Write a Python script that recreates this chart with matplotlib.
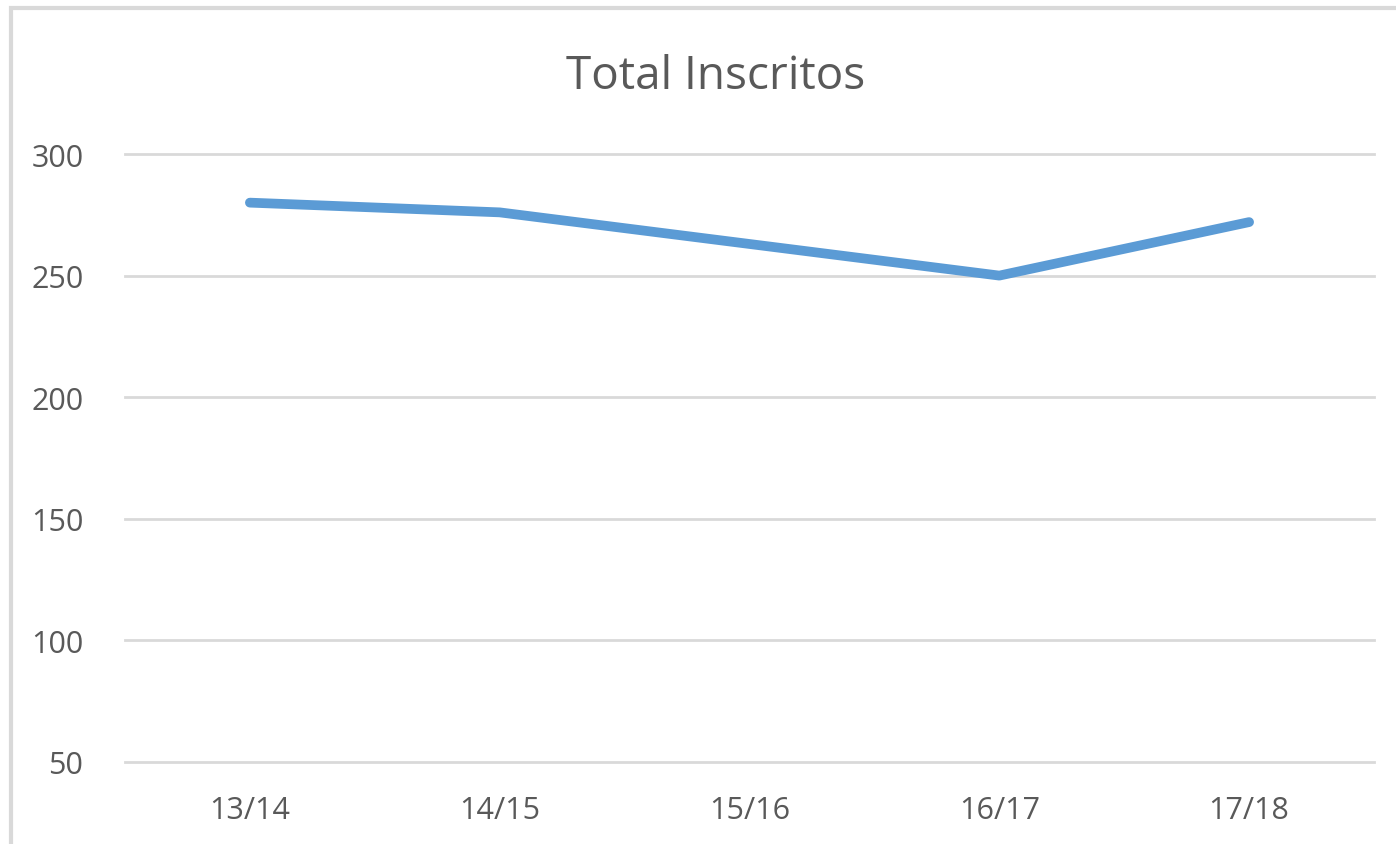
import matplotlib.pyplot as plt
from matplotlib.patches import Rectangle

anos = ['13/14', '14/15', '15/16', '16/17', '17/18']
inscritos = [280, 276, 263, 250, 272]
yticks = [50, 100, 150, 200, 250, 300]

plt.rcParams['font.family'] = ['Open Sans', 'DejaVu Sans']
texto = '#595959'
grelha = '#d9d9d9'

fig = plt.figure(figsize=(13.96, 8.45), dpi=100)
ax = fig.add_axes([125 / 1396, 1 - 763 / 845, (1374 - 125) / 1396, (763 - 155) / 845])

# moldura do gráfico (cortada à direita e em baixo)
fig.patches.append(Rectangle((11 / 1396, -0.1), 1.2, 1 - 9 / 845 + 0.1, transform=fig.transFigure,
                             fill=False, edgecolor='#d9d9d9', linewidth=3))

x = range(len(anos))
ax.plot(x, inscritos, color='#5b9bd5', linewidth=7, solid_capstyle='round', solid_joinstyle='round')

ax.set_xlim(-0.5, len(anos) - 0.5)
ax.set_ylim(50, 300)
ax.set_yticks(yticks)
ax.set_xticks(list(x))
ax.set_xticklabels(anos)
ax.grid(axis='y', color=grelha, linewidth=2)
for g in ax.yaxis.get_gridlines():
    g.set_clip_on(False)
ax.set_axisbelow(True)
for s in ax.spines.values():
    s.set_visible(False)
ax.tick_params(length=0, labelsize=22, colors=texto, pad=24)
ax.tick_params(axis='y', pad=30)

fig.text(716 / 1396, 1 - 77 / 845, 'Total Inscritos', ha='center', va='center', fontsize=33, color=texto)

fig.savefig('out.png', dpi=100)
